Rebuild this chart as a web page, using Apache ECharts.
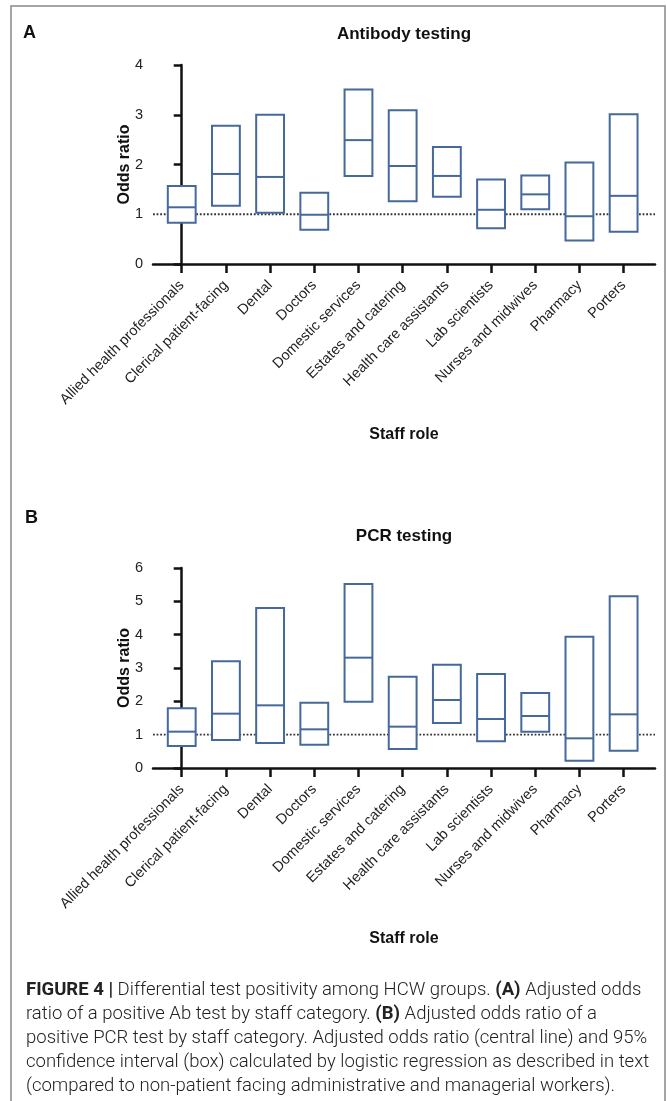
<!DOCTYPE html>
<html>
<head>
<meta charset="utf-8">
<script src="https://cdn.jsdelivr.net/npm/echarts@6/dist/echarts.min.js"></script>
<style>
  html, body { margin: 0; padding: 0; background: #fff; }
  #wrap { position: relative; width: 667px; height: 1101px; overflow: hidden; }
  #chart { position: absolute; left: 0; top: 0; width: 667px; height: 1101px; }
  .caption {
    position: absolute; left: 26px; top: 977px;
    font-family: Roboto, "Liberation Sans", sans-serif; font-weight: 300;
    font-size: 18.5px; line-height: 24px; color: #222; white-space: nowrap;
  }
  .caption b { font-weight: 700; }
</style>
</head>
<body>
<div id="wrap">
  <div id="chart"></div>
  <div class="caption">
    <div><b>FIGURE 4 |</b> Differential test positivity among HCW groups. <b>(A)</b> Adjusted odds</div>
    <div>ratio of a positive Ab test by staff category. <b>(B)</b> Adjusted odds ratio of a</div>
    <div>positive PCR test by staff category. Adjusted odds ratio (central line) and 95%</div>
    <div>confidence interval (box) calculated by logistic regression as described in text</div>
    <div>(compared to non-patient facing administrative and managerial workers).</div>
  </div>
</div>
<script>
const categories = [
  'Allied health professionals', 'Clerical patient-facing', 'Dental', 'Doctors',
  'Domestic services', 'Estates and catering', 'Health care assistants',
  'Lab scientists', 'Nurses and midwives', 'Pharmacy', 'Porters'
];

// A: antibody testing, odds ratio with 95% CI
const abLow  = [0.83, 1.17, 1.03, 0.69, 1.77, 1.26, 1.35, 0.72, 1.10, 0.47, 0.65];
const abOR   = [1.14, 1.81, 1.75, 0.99, 2.49, 1.97, 1.77, 1.09, 1.40, 0.96, 1.37];
const abHigh = [1.57, 2.78, 3.00, 1.43, 3.51, 3.09, 2.35, 1.70, 1.78, 2.04, 3.01];

// B: PCR testing
const pcrLow  = [0.66, 0.84, 0.75, 0.70, 1.99, 0.57, 1.35, 0.80, 1.09, 0.22, 0.52];
const pcrOR   = [1.09, 1.63, 1.88, 1.16, 3.31, 1.24, 2.04, 1.47, 1.56, 0.89, 1.61];
const pcrHigh = [1.79, 3.20, 4.80, 1.96, 5.52, 2.74, 3.10, 2.82, 2.25, 3.94, 5.15];

const FONT = '"Liberation Sans", Arial, sans-serif';
const BOX_COLOR = '#44699a';
const AXIS_COLOR = '#111';
const xMin = -0.65;
const xMax = 10.71;
const idx = categories.map((c, i) => i);

function xAxisFor(gridIndex) {
  return {
    type: 'value', gridIndex, min: xMin, max: xMax,
    name: 'Staff role', nameLocation: 'middle', nameGap: 163,
    nameTextStyle: { fontFamily: FONT, fontSize: 16, fontWeight: 'bold', color: AXIS_COLOR },
    axisLine: { show: true, lineStyle: { color: AXIS_COLOR, width: 2.5 } },
    axisTick: { show: true, customValues: idx, length: 9, lineStyle: { color: AXIS_COLOR, width: 2.5 } },
    axisLabel: {
      customValues: idx, rotate: 45, margin: 19,
      formatter: v => categories[Math.round(v)],
      fontFamily: FONT, fontSize: 14.5, color: '#222'
    },
    splitLine: { show: false }
  };
}

function yAxisFor(gridIndex, max) {
  return {
    type: 'value', gridIndex, min: 0, max, interval: 1,
    name: 'Odds ratio', nameLocation: 'middle', nameGap: 20, nameMoveOverlap: false,
    nameTextStyle: { fontFamily: FONT, fontSize: 16, fontWeight: 'bold', color: AXIS_COLOR },
    axisLine: { show: true, lineStyle: { color: AXIS_COLOR, width: 2.5 } },
    axisTick: { show: true, length: 8, lineStyle: { color: AXIS_COLOR, width: 2.5 } },
    axisLabel: { margin: 10, fontFamily: FONT, fontSize: 14.5, color: '#222' },
    splitLine: { show: false }
  };
}

function refLine(gridIndex) {
  return {
    type: 'line', xAxisIndex: gridIndex, yAxisIndex: gridIndex,
    data: [[xMin, 1], [xMax, 1]], symbol: 'none', silent: true, z: 1,
    lineStyle: { color: '#333', width: 1.8, type: [1.8, 1.8] }
  };
}

function renderBox(params, api) {
  const x = api.value(0);
  const pLo = api.coord([x, api.value(1)]);
  const pMed = api.coord([x, api.value(2)]);
  const pHi = api.coord([x, api.value(3)]);
  const w = api.size([1, 0])[0] * 0.63;
  return {
    type: 'group',
    children: [
      {
        type: 'rect',
        shape: { x: pHi[0] - w / 2, y: pHi[1], width: w, height: pLo[1] - pHi[1] },
        style: { fill: '#fff', stroke: BOX_COLOR, lineWidth: 2 }
      },
      {
        type: 'line',
        shape: { x1: pMed[0] - w / 2, y1: pMed[1], x2: pMed[0] + w / 2, y2: pMed[1] },
        style: { stroke: BOX_COLOR, lineWidth: 2 }
      }
    ]
  };
}

function boxSeries(gridIndex, low, mid, high) {
  return {
    type: 'custom', xAxisIndex: gridIndex, yAxisIndex: gridIndex, z: 3,
    renderItem: renderBox,
    encode: { x: 0, y: [1, 2, 3] },
    data: categories.map((c, i) => [i, low[i], mid[i], high[i]])
  };
}

const chart = echarts.init(document.getElementById('chart'));
chart.setOption({
  animation: false,
  textStyle: { fontFamily: FONT },
  grid: [
    { left: 153, right: 12, top: 65, height: 199 },
    { left: 153, right: 12, top: 568, height: 200 }
  ],
  xAxis: [xAxisFor(0), xAxisFor(1)],
  yAxis: [yAxisFor(0, 4), yAxisFor(1, 6)],
  series: [
    refLine(0), boxSeries(0, abLow, abOR, abHigh),
    refLine(1), boxSeries(1, pcrLow, pcrOR, pcrHigh)
  ],
  graphic: [
    { type: 'rect', shape: { x: 11, y: 6, width: 654, height: 1120 },
      style: { fill: 'none', stroke: '#888', lineWidth: 1.5 } },
    { type: 'text', x: 23, y: 33,
      style: { text: 'A', font: 'bold 18px ' + FONT, fill: '#111', verticalAlign: 'middle' } },
    { type: 'text', x: 25, y: 518,
      style: { text: 'B', font: 'bold 18px ' + FONT, fill: '#111', verticalAlign: 'middle' } },
    { type: 'text', x: 404, y: 34,
      style: { text: 'Antibody testing', font: 'bold 17px ' + FONT, fill: '#111', align: 'center', verticalAlign: 'middle' } },
    { type: 'text', x: 404, y: 536,
      style: { text: 'PCR testing', font: 'bold 17px ' + FONT, fill: '#111', align: 'center', verticalAlign: 'middle' } }
  ]
});
</script>
</body>
</html>
